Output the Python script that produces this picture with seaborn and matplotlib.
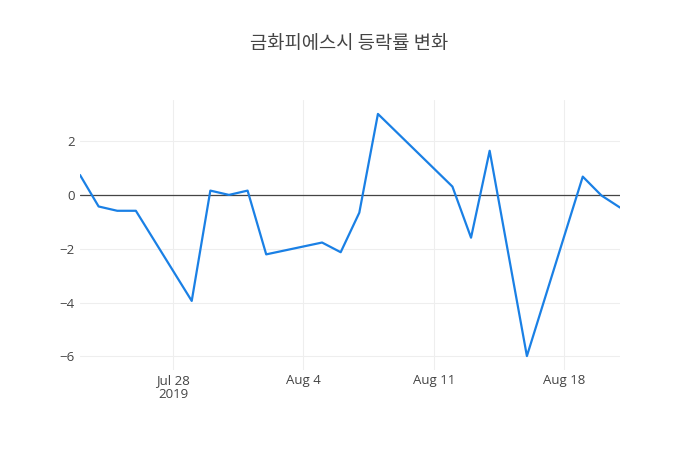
import matplotlib
matplotlib.use("Agg")
import matplotlib.pyplot as plt
import matplotlib.dates as mdates
import seaborn as sns
import pandas as pd
import numpy as np

dates = ["2019-07-23", "2019-07-24", "2019-07-25", "2019-07-26", "2019-07-29",
         "2019-07-30", "2019-07-31", "2019-08-01", "2019-08-02", "2019-08-05",
         "2019-08-06", "2019-08-07", "2019-08-08", "2019-08-12", "2019-08-13",
         "2019-08-14", "2019-08-16", "2019-08-19", "2019-08-20", "2019-08-21"]
rates = [0.74, -0.43, -0.59, -0.59, -3.94,
         0.16, 0.0, 0.16, -2.21, -1.77,
         -2.13, -0.66, 3.01, 0.31, -1.59,
         1.64, -5.99, 0.68, -0.02, -0.47]
tick_dates = ["2019-07-28", "2019-08-04", "2019-08-11", "2019-08-18"]
tick_labels = ["Jul 28\n2019", "Aug 4", "Aug 11", "Aug 18"]
y_ticks = [-6, -4, -2, 0, 2]
title = "금화피에스시 등락률 변화"

sns.set_theme(style="white")
plt.rcParams['font.family'] = ['Open Sans', 'Noto Sans CJK KR', 'DejaVu Sans']

df = pd.DataFrame({"date": pd.to_datetime(dates), "rate": rates})

fig = plt.figure(figsize=(7, 4.5), dpi=100)
ax = fig.add_axes([80/700, 1 - 370/450, 540/700, 270/450])

sns.lineplot(data=df, x="date", y="rate", ax=ax, color="#1a80e5", linewidth=1.6, zorder=3)

ax.set_xlim(df["date"].min(), df["date"].max())
ymin, ymax = min(rates), max(rates)
pad = (ymax - ymin) * 0.0575
ax.set_ylim(ymin - pad, ymax + pad)

ax.set_xticks(pd.to_datetime(tick_dates))
ax.set_xticklabels(tick_labels, linespacing=1.1)
ax.set_yticks(y_ticks)
ax.set_yticklabels([str(v).replace("-", "\u2212") for v in y_ticks])

ax.grid(True, color="#eeeeee", linewidth=0.8)
ax.axhline(0, color="#444444", linewidth=0.9, zorder=2)
for s in ax.spines.values():
    s.set_visible(False)
ax.tick_params(axis="both", length=0, labelsize=9.5, colors="#444444")
ax.tick_params(axis="x", pad=3)
ax.tick_params(axis="y", pad=4)
ax.set_xlabel("")
ax.set_ylabel("")

fig.text(349/700, 1 - 44/450, title, ha="center", va="center", fontsize=13.5,
         color="#444444", family=['Noto Sans CJK KR', 'DejaVu Sans'])

fig.savefig("out.png", dpi=100)
